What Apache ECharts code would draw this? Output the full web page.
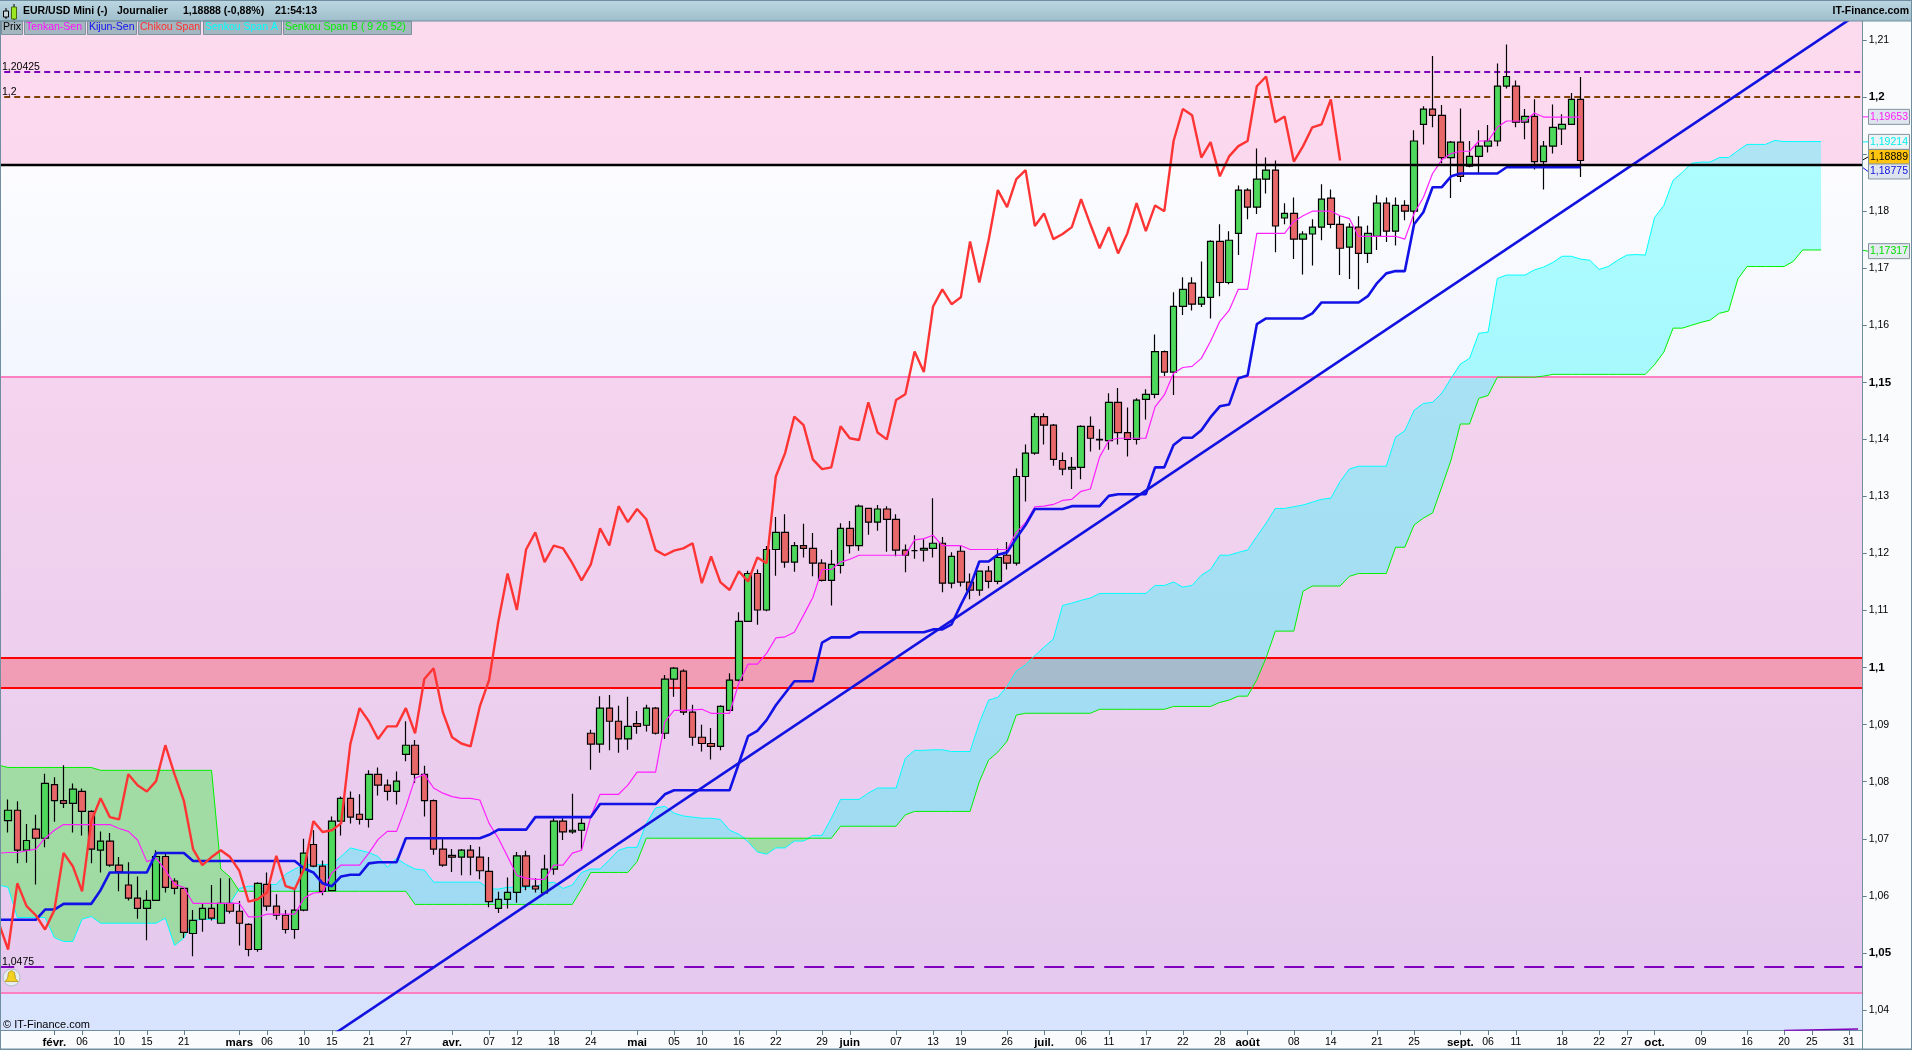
<!DOCTYPE html>
<html><head><meta charset="utf-8"><style>html,body{margin:0;padding:0;background:#fafbfc}#c{width:1912px;height:1050px}</style>
<script src="https://cdn.jsdelivr.net/npm/echarts@6/dist/echarts.min.js"></script></head><body><div id="c"></div>
<script>
const opens=[1.0732,1.0750,1.0680,1.0717,1.0701,1.0795,1.0767,1.0762,1.0783,1.0748,1.0680,1.0696,1.0654,1.0619,1.0596,1.0578,1.0592,1.0669,1.0626,1.0613,1.0534,1.0559,1.0578,1.0552,1.0587,1.0573,1.0550,1.0506,1.0620,1.0582,1.0566,1.0541,1.0575,1.0690,1.0652,1.0609,1.0731,1.0771,1.0743,1.0734,1.0813,1.0794,1.0783,1.0848,1.0864,1.0813,1.0767,1.0682,1.0671,1.0668,1.0680,1.0668,1.0643,1.0578,1.0594,1.0606,1.0670,1.0617,1.0605,1.0647,1.0731,1.0712,1.0715,1.0885,1.0866,1.0929,1.0906,1.0875,1.0902,1.0899,1.0929,1.0885,1.0980,1.0994,1.0922,1.0878,1.0867,1.0862,1.0925,1.0978,1.1081,1.1165,1.1101,1.1207,1.1237,1.1185,1.1214,1.1209,1.1183,1.1153,1.1179,1.1244,1.1214,1.1279,1.1255,1.1278,1.1260,1.1206,1.1205,1.1206,1.1209,1.1218,1.1148,1.1204,1.1150,1.1136,1.1169,1.1151,1.1197,1.1183,1.1335,1.1376,1.1440,1.1425,1.1363,1.1348,1.1351,1.1423,1.1400,1.1398,1.1465,1.1412,1.1400,1.1470,1.1479,1.1554,1.1518,1.1633,1.1674,1.1637,1.1649,1.1747,1.1675,1.1761,1.1837,1.1807,1.1856,1.1872,1.1788,1.1796,1.1751,1.1760,1.1772,1.1823,1.1777,1.1737,1.1772,1.1726,1.1756,1.1814,1.1765,1.1810,1.1800,1.1952,1.1979,1.1968,1.1894,1.1921,1.1879,1.1896,1.1914,1.1923,1.2019,1.2019,1.1956,1.1966,1.1887,1.1914,1.1944,1.1952,1.1996];
const closes=[1.0750,1.0680,1.0697,1.0701,1.0797,1.0767,1.0762,1.0787,1.0748,1.0682,1.0696,1.0654,1.0642,1.0596,1.0578,1.0592,1.0669,1.0615,1.0613,1.0536,1.0557,1.0578,1.0561,1.0587,1.0573,1.0552,1.0506,1.0622,1.0582,1.0566,1.0541,1.0575,1.0675,1.0652,1.0608,1.0731,1.0771,1.0738,1.0734,1.0813,1.0794,1.0783,1.0801,1.0864,1.0813,1.0767,1.0682,1.0654,1.0668,1.0680,1.0668,1.0644,1.0590,1.0594,1.0606,1.0670,1.0617,1.0612,1.0647,1.0731,1.0712,1.0715,1.0727,1.0866,1.0929,1.0906,1.0875,1.0897,1.0897,1.0929,1.0885,1.0980,1.0999,1.0922,1.0878,1.0867,1.0862,1.0932,1.0978,1.1081,1.1165,1.1101,1.1207,1.1237,1.1185,1.1214,1.1209,1.1183,1.1153,1.1181,1.1244,1.1214,1.1283,1.1255,1.1278,1.1260,1.1206,1.1197,1.1205,1.1209,1.1218,1.1148,1.1195,1.1150,1.1136,1.1169,1.1151,1.1193,1.1183,1.1335,1.1376,1.1440,1.1425,1.1365,1.1348,1.1351,1.1423,1.1402,1.1399,1.1465,1.1412,1.1400,1.1469,1.1479,1.1554,1.1518,1.1633,1.1663,1.1637,1.1649,1.1747,1.1675,1.1749,1.1837,1.1807,1.1856,1.1872,1.1774,1.1796,1.1751,1.1760,1.1772,1.1821,1.1777,1.1735,1.1772,1.1726,1.1761,1.1814,1.1765,1.1810,1.1800,1.1923,1.1979,1.1968,1.1894,1.1921,1.1861,1.1896,1.1914,1.1923,1.2019,1.2036,1.1956,1.1966,1.1887,1.1914,1.1947,1.1952,1.1996,1.18888];
const lows=[1.0711,1.0657,1.0658,1.0620,1.0685,1.0730,1.0754,1.0711,1.0706,1.0657,1.0641,1.0651,1.0608,1.0592,1.0560,1.0522,1.0592,1.0606,1.0603,1.0526,1.0494,1.0537,1.0557,1.0552,1.0569,1.0513,1.0494,1.0502,1.0574,1.0558,1.0534,1.0525,1.0573,1.0650,1.0601,1.0608,1.0706,1.0727,1.0725,1.0720,1.0776,1.0767,1.0760,1.0836,1.0798,1.0739,1.0672,1.0651,1.0642,1.0636,1.0636,1.0629,1.0580,1.0570,1.0578,1.0588,1.0610,1.0606,1.0605,1.0637,1.0698,1.0709,1.0681,1.0821,1.0851,1.0855,1.0851,1.0856,1.0884,1.0888,1.0883,1.0875,1.0949,1.0917,1.0863,1.0853,1.0839,1.0855,1.0925,1.0976,1.1081,1.1075,1.1099,1.1161,1.1175,1.1168,1.1193,1.1160,1.1151,1.1109,1.1165,1.1200,1.1205,1.1233,1.1240,1.1203,1.1195,1.1167,1.1191,1.1186,1.1193,1.1132,1.1139,1.1142,1.1120,1.1126,1.1139,1.1146,1.1172,1.1179,1.1291,1.1373,1.1391,1.1354,1.1337,1.1313,1.1330,1.1379,1.1382,1.1382,1.1391,1.1370,1.1391,1.1435,1.1472,1.1511,1.1478,1.1618,1.1626,1.1632,1.1612,1.1651,1.1672,1.1723,1.1786,1.1795,1.1831,1.1728,1.1777,1.1716,1.1689,1.1705,1.1749,1.1770,1.1688,1.1681,1.1663,1.1709,1.1732,1.1746,1.1740,1.1784,1.1777,1.1917,1.1947,1.1884,1.1823,1.1851,1.1877,1.1866,1.1903,1.1914,1.2015,1.1947,1.1926,1.1873,1.1838,1.1901,1.1916,1.1952,1.1860];
const highs=[1.0769,1.0766,1.0726,1.0742,1.0814,1.0808,1.0829,1.0797,1.0788,1.0750,1.0713,1.0710,1.0668,1.0659,1.0634,1.0610,1.0680,1.0676,1.0631,1.0613,1.0575,1.0587,1.0619,1.0631,1.0631,1.0591,1.0552,1.0624,1.0641,1.0603,1.0575,1.0610,1.0700,1.0715,1.0662,1.0739,1.0774,1.0783,1.0778,1.0820,1.0825,1.0804,1.0818,1.0906,1.0873,1.0828,1.0769,1.0703,1.0682,1.0682,1.0689,1.0686,1.0668,1.0607,1.0632,1.0677,1.0679,1.0631,1.0672,1.0736,1.0736,1.0779,1.0736,1.0891,1.0950,1.0952,1.0933,1.0949,1.0924,1.0935,1.0931,1.0987,1.1001,1.0997,1.0935,1.0900,1.0894,1.0934,1.0990,1.1097,1.1170,1.1172,1.1213,1.1264,1.1269,1.1220,1.1252,1.1236,1.1190,1.1206,1.1253,1.1257,1.1286,1.1279,1.1285,1.1283,1.1269,1.1216,1.1232,1.1225,1.1297,1.1229,1.1202,1.1213,1.1165,1.1169,1.1178,1.1209,1.1220,1.1349,1.1391,1.1446,1.1446,1.1427,1.1377,1.1369,1.1425,1.1440,1.1418,1.1481,1.1490,1.1456,1.1472,1.1488,1.1584,1.1556,1.1658,1.1684,1.1684,1.1712,1.1749,1.1777,1.1765,1.1845,1.1840,1.1910,1.1894,1.1889,1.1814,1.1824,1.1765,1.1786,1.1847,1.1838,1.1793,1.1779,1.1791,1.1775,1.1828,1.1824,1.1824,1.1819,1.1942,1.1984,1.2072,1.1986,1.1923,1.1980,1.1923,1.1942,1.1951,1.2059,1.2092,1.2029,1.1979,1.1996,1.1923,1.1987,1.1970,1.2007,1.2035];
const tenkan=[1.0675,1.0676,1.0676,1.0679,1.0682,1.0701,1.0715,1.0725,1.0725,1.0725,1.0725,1.0725,1.0725,1.0718,1.0713,1.0698,1.0660,1.0666,1.0645,1.0620,1.0615,1.0587,1.0587,1.0587,1.0587,1.0587,1.0587,1.0563,1.0563,1.0568,1.0568,1.0568,1.0568,1.0596,1.0605,1.0606,1.0640,1.0654,1.0654,1.0654,1.0675,1.0699,1.0713,1.0713,1.0756,1.0806,1.0813,1.0789,1.0780,1.0774,1.0771,1.0771,1.0768,1.0727,1.0701,1.0669,1.0636,1.0631,1.0629,1.0629,1.0654,1.0654,1.0675,1.0680,1.0739,1.0778,1.0778,1.0778,1.0794,1.0817,1.0817,1.0817,1.0905,1.0925,1.0925,1.0926,1.0927,1.0920,1.0920,1.0920,1.0973,1.1006,1.1006,1.1025,1.1052,1.1054,1.1062,1.1092,1.1123,1.1172,1.1172,1.1185,1.1190,1.1197,1.1197,1.1197,1.1197,1.1197,1.1197,1.1224,1.1226,1.1232,1.1214,1.1214,1.1214,1.1207,1.1207,1.1207,1.1207,1.1207,1.1237,1.1254,1.1282,1.1283,1.1286,1.1293,1.1295,1.1309,1.1313,1.1369,1.1398,1.1402,1.1402,1.1402,1.1402,1.1457,1.1478,1.1516,1.1526,1.1528,1.1542,1.1572,1.1607,1.1626,1.1663,1.1663,1.1761,1.1761,1.1761,1.1761,1.1782,1.1792,1.1800,1.1800,1.1800,1.1792,1.1787,1.1756,1.1756,1.1756,1.1756,1.1756,1.1751,1.1796,1.1824,1.1866,1.1890,1.1901,1.1905,1.1905,1.1923,1.1923,1.1947,1.1958,1.1958,1.1958,1.1972,1.1965,1.1965,1.1965,1.1965,1.1965];
const kijun=[1.0558,1.0558,1.0558,1.0558,1.0558,1.0576,1.0576,1.0586,1.0586,1.0586,1.0586,1.0610,1.0641,1.0641,1.0641,1.0641,1.0641,1.0675,1.0675,1.0675,1.0675,1.0661,1.0661,1.0661,1.0661,1.0661,1.0661,1.0661,1.0661,1.0661,1.0661,1.0661,1.0661,1.0648,1.0641,1.0622,1.0617,1.0634,1.0637,1.0637,1.0657,1.0659,1.0659,1.0659,1.0701,1.0701,1.0701,1.0701,1.0701,1.0701,1.0701,1.0701,1.0701,1.0707,1.0716,1.0716,1.0716,1.0716,1.0738,1.0738,1.0738,1.0738,1.0738,1.0738,1.0738,1.0761,1.0761,1.0761,1.0761,1.0761,1.0761,1.0761,1.0778,1.0785,1.0785,1.0785,1.0785,1.0785,1.0785,1.0785,1.0832,1.0880,1.0889,1.0908,1.0934,1.0955,1.0976,1.0976,1.0976,1.1044,1.1053,1.1053,1.1053,1.1062,1.1062,1.1062,1.1062,1.1062,1.1062,1.1062,1.1062,1.1067,1.1067,1.1076,1.1110,1.1142,1.1186,1.1186,1.1198,1.1202,1.1227,1.1250,1.1278,1.1278,1.1278,1.1278,1.1283,1.1283,1.1283,1.1283,1.1301,1.1304,1.1304,1.1304,1.1304,1.1351,1.1351,1.1390,1.1403,1.1403,1.1416,1.1439,1.1458,1.1461,1.1507,1.1512,1.1602,1.1612,1.1612,1.1612,1.1612,1.1612,1.1621,1.1640,1.1640,1.1640,1.1640,1.1640,1.1651,1.1674,1.1691,1.1695,1.1695,1.1777,1.1798,1.1842,1.1842,1.1861,1.1866,1.1866,1.1866,1.1866,1.1866,1.1877,1.1877,1.1877,1.1877,1.1877,1.1877,1.1877,1.1877,1.1877];
const chikou=[1.0552,1.0506,1.0622,1.0582,1.0566,1.0541,1.0575,1.0675,1.0652,1.0608,1.0731,1.0771,1.0738,1.0734,1.0813,1.0794,1.0783,1.0801,1.0864,1.0813,1.0767,1.0682,1.0654,1.0668,1.0680,1.0668,1.0644,1.0590,1.0594,1.0606,1.0670,1.0617,1.0612,1.0647,1.0731,1.0712,1.0715,1.0727,1.0866,1.0929,1.0906,1.0875,1.0897,1.0897,1.0929,1.0885,1.0980,1.0999,1.0922,1.0878,1.0867,1.0862,1.0932,1.0978,1.1081,1.1165,1.1101,1.1207,1.1237,1.1185,1.1214,1.1209,1.1183,1.1153,1.1181,1.1244,1.1214,1.1283,1.1255,1.1278,1.1260,1.1206,1.1197,1.1205,1.1209,1.1218,1.1148,1.1195,1.1150,1.1136,1.1169,1.1151,1.1193,1.1183,1.1335,1.1376,1.1440,1.1425,1.1365,1.1348,1.1351,1.1423,1.1402,1.1399,1.1465,1.1412,1.1400,1.1469,1.1479,1.1554,1.1518,1.1633,1.1663,1.1637,1.1649,1.1747,1.1675,1.1749,1.1837,1.1807,1.1856,1.1872,1.1774,1.1796,1.1751,1.1760,1.1772,1.1821,1.1777,1.1735,1.1772,1.1726,1.1761,1.1814,1.1765,1.1810,1.1800,1.1923,1.1979,1.1968,1.1894,1.1921,1.1861,1.1896,1.1914,1.1923,1.2019,1.2036,1.1956,1.1966,1.1887,1.1914,1.1947,1.1952,1.1996,1.18888];
const senkouA=[1.0619,1.0615,1.0562,1.0562,1.0562,1.0562,1.0527,1.0520,1.0520,1.0559,1.0564,1.0552,1.0552,1.0552,1.0552,1.0552,1.0552,1.0552,1.0561,1.0513,1.0526,1.0557,1.0559,1.0559,1.0559,1.0587,1.0613,1.0617,1.0617,1.0620,1.0620,1.0638,1.0647,1.0655,1.0655,1.0655,1.0655,1.0669,1.0684,1.0680,1.0676,1.0669,1.0650,1.0666,1.0655,1.0647,1.0645,1.0624,1.0624,1.0624,1.0624,1.0624,1.0624,1.0612,1.0612,1.0615,1.0615,1.0615,1.0616,1.0622,1.0624,1.0613,1.0619,1.0641,1.0647,1.0647,1.0663,1.0680,1.0685,1.0685,1.0727,1.0754,1.0757,1.0745,1.0740,1.0738,1.0736,1.0736,1.0734,1.0715,1.0708,1.0695,1.0677,1.0673,1.0684,1.0684,1.0696,1.0696,1.0706,1.0706,1.0736,1.0769,1.0769,1.0769,1.0780,1.0789,1.0789,1.0789,1.0841,1.0855,1.0855,1.0856,1.0856,1.0853,1.0853,1.0853,1.0903,1.0943,1.0948,1.0967,1.0994,1.1005,1.1021,1.1036,1.1050,1.1109,1.1113,1.1118,1.1122,1.1130,1.1130,1.1130,1.1130,1.1130,1.1130,1.1144,1.1144,1.1150,1.1141,1.1144,1.1162,1.1172,1.1197,1.1197,1.1202,1.1206,1.1230,1.1253,1.1279,1.1279,1.1282,1.1285,1.1290,1.1295,1.1297,1.1326,1.1348,1.1353,1.1353,1.1353,1.1353,1.1404,1.1415,1.1451,1.1463,1.1465,1.1481,1.1507,1.1532,1.1542,1.1586,1.1588,1.1682,1.1688,1.1688,1.1688,1.1697,1.1702,1.1710,1.1721,1.1721,1.1716,1.1714,1.1698,1.1703,1.1714,1.1723,1.1724,1.1723,1.1789,1.1810,1.1854,1.1868,1.1884,1.1886,1.1886,1.1894,1.1894,1.1906,1.1917,1.1917,1.1917,1.1924,1.1922,1.1922,1.1922,1.1922,1.1922];
const senkouB=[1.0829,1.0825,1.0825,1.0825,1.0825,1.0825,1.0825,1.0825,1.0825,1.0825,1.0825,1.0820,1.0820,1.0820,1.0820,1.0820,1.0820,1.0820,1.0820,1.0820,1.0820,1.0820,1.0820,1.0820,1.0647,1.0633,1.0608,1.0608,1.0608,1.0608,1.0608,1.0608,1.0608,1.0608,1.0608,1.0608,1.0608,1.0608,1.0608,1.0608,1.0608,1.0608,1.0608,1.0608,1.0608,1.0585,1.0585,1.0585,1.0585,1.0585,1.0585,1.0585,1.0585,1.0585,1.0585,1.0585,1.0585,1.0585,1.0585,1.0585,1.0585,1.0585,1.0585,1.0612,1.0641,1.0641,1.0641,1.0641,1.0641,1.0660,1.0701,1.0701,1.0701,1.0701,1.0701,1.0701,1.0701,1.0701,1.0701,1.0701,1.0701,1.0701,1.0701,1.0701,1.0701,1.0701,1.0701,1.0701,1.0701,1.0701,1.0701,1.0722,1.0722,1.0722,1.0722,1.0722,1.0722,1.0722,1.0742,1.0748,1.0748,1.0748,1.0748,1.0748,1.0748,1.0748,1.0800,1.0838,1.0852,1.0871,1.0917,1.0920,1.0920,1.0920,1.0920,1.0920,1.0920,1.0920,1.0920,1.0927,1.0927,1.0927,1.0927,1.0927,1.0927,1.0927,1.0927,1.0932,1.0932,1.0932,1.0932,1.0932,1.0939,1.0943,1.0950,1.0950,1.0979,1.1017,1.1064,1.1064,1.1064,1.1134,1.1143,1.1143,1.1143,1.1143,1.1160,1.1165,1.1165,1.1165,1.1165,1.1211,1.1211,1.1250,1.1262,1.1271,1.1317,1.1364,1.1427,1.1427,1.1472,1.1477,1.1509,1.1509,1.1509,1.1509,1.1509,1.1511,1.1514,1.1514,1.1514,1.1514,1.1514,1.1514,1.1514,1.1514,1.1514,1.1514,1.1514,1.1531,1.1553,1.1595,1.1595,1.1600,1.1605,1.1609,1.1621,1.1625,1.1681,1.1703,1.1703,1.1703,1.1703,1.1703,1.1712,1.1732,1.1732,1.1732];
const trendLine=[[36,1.03552],[201,1.2146]];
const sliverLine=[[193,1.0364],[201,1.03665]];
const xTickSlots=[6,9,13,16,20,26,29,33,36,40,44,49,53,56,60,64,69,73,76,80,84,89,92,97,101,104,109,113,117,120,124,128,132,135,140,144,149,153,158,161,164,169,173,176,179,184,189,193,196,200];
const xTickLabels=['févr.','06','10','15','21','mars','06','10','15','21','27','avr.','07','12','18','24','mai','05','10','16','22','29','juin','07','13','19','26','juil.','06','11','17','22','28','août','08','14','21','25','sept.','06','11','18','22','27','oct.','09','16','20','25','31'];
const yTicks=[1.04,1.05,1.06,1.07,1.08,1.09,1.10,1.11,1.12,1.13,1.14,1.15,1.16,1.17,1.18,1.19,1.20,1.21];
const yBold=[1.05,1.10,1.15,1.20];
const levelPurpleTop=1.2044, levelBrown=1.2, levelBlack=1.18815, levelPinkTop=1.1510, levelPinkBottom=1.0430, levelPurpleLow=1.04754, bandTop=1.1017, bandBottom=1.0964;
const boxPrices=[1.19653,1.19214,1.18889,1.18775,1.17317];
const boxTexts=['1,19653','1,19214','1,18889','1,18775','1,17317'];
const boxColors=['#ff20ff','#00f0f0','#000000','#1010e0','#00e000'];
const boxFills=['#dfe5ee','#eef3f6','#ffc410','#dfe5ee','#e4eaee'];
const boxShift=[0,0,-3.5,4.5,1];
const N=202, yMin=1.03649, yMax=1.21333;
const slots=Array.from({length:N},(_,i)=>String(i));
const tickMap=new Map(xTickSlots.map((s,i)=>[s,xTickLabels[i]]));
const FONT='"Liberation Sans",Arial,sans-serif';
function cloudRuns(){const runs=[];let cur=null;
 for(let s=0;s<senkouA.length;s++){const up=senkouA[s]>=senkouB[s];
  if(!cur||cur.up!==up){
   if(cur&&s>0){const a0=senkouA[s-1],b0=senkouB[s-1],a1=senkouA[s],b1=senkouB[s];const t=(a0-b0)/((a0-b0)-(a1-b1));const px=s-1+t,py=a0+(a1-a0)*t;cur.pts.push([px,py]);cur={up,pts:[[px,py]]};runs.push(cur);}
   else{cur={up,pts:[]};runs.push(cur);}
  }
  cur.pts.push([s,senkouA[s],senkouB[s]]);
 }
 return runs;}
const runs=cloudRuns();
const chart=echarts.init(document.getElementById('c'),null,{width:1912,height:1050});
function ls(name,data,color,w,z,extra){return Object.assign({name,type:'line',data,symbol:'none',showSymbol:false,silent:true,z,clip:true,lineStyle:{color,width:w},itemStyle:{color},animation:false},extra||{});}
const grad=(a,b)=>new echarts.graphic.LinearGradient(0,0,0,1,[{offset:0,color:a},{offset:1,color:b}]);
function hl(v,color,w,type){return {yAxis:v,lineStyle:{color,width:w,type:type||'solid',opacity:1}};}
function txt(t,x,y,fill,size,weight,align){return {type:'text',x,y,z:104,silent:true,style:{text:t,fill,font:(weight||'normal')+' '+size+'px '+FONT,textAlign:align||'left',textVerticalAlign:'middle'}};}
const headerItems=[
 {type:'rect',shape:{x:0,y:0,width:1912,height:21},style:{fill:grad('#bcd7e2','#9fbecb')},z:100},
 {type:'rect',shape:{x:0,y:0,width:1912,height:1},style:{fill:'#6f8fa0'},z:101},
 {type:'rect',shape:{x:0,y:20.5,width:1912,height:1},style:{fill:'#6f8fa0'},z:101},
 {type:'rect',shape:{x:0,y:21,width:1,height:1028},style:{fill:'#6f8fa0'},z:101},
 {type:'rect',shape:{x:1911,y:0,width:1,height:1050},style:{fill:'#6f8fa0'},z:101},
 {type:'rect',shape:{x:0,y:1048.5,width:1912,height:1.5},style:{fill:'#6f8fa0'},z:101},
 {type:'rect',shape:{x:5.5,y:8,width:1,height:11},style:{fill:'#000'},z:102},
 {type:'rect',shape:{x:3.5,y:11,width:5,height:6},style:{fill:'#c9d8dd',stroke:'#000',lineWidth:1},z:103},
 {type:'rect',shape:{x:13.5,y:4,width:1,height:16},style:{fill:'#000'},z:102},
 {type:'rect',shape:{x:11.5,y:7,width:5,height:12},style:{fill:'#9be820',stroke:'#4a6a10',lineWidth:1},z:103},
 txt('EUR/USD Mini (-)',23,11,'#000',10.5,'bold'),txt('Journalier',117,11,'#000',10.5,'bold'),txt('1,18888 (-0,88%)',183,11,'#000',10.5,'bold'),txt('21:54:13',275,11,'#000',10.5,'bold'),
 txt('IT-Finance.com',1909,11,'#000',10.5,'bold','right')
];
const legendBtns=[['Prix',1,22,'#000'],['Tenkan-Sen',24,62,'#ff10ff'],['Kijun-Sen',87,50,'#1010f0'],['Chikou Span',138,63,'#ff3030'],['Senkou Span A',203,79,'#00ffff'],['Senkou Span B ( 9 26 52)',283,129,'#00f000']];
legendBtns.forEach(b=>{headerItems.push({type:'rect',shape:{x:b[1]+.5,y:21,width:b[2]-1,height:13.5},style:{fill:'#a4b6c0',stroke:'#7f919c',lineWidth:1},z:100});headerItems.push(txt(b[0],b[1]+2,27.5,b[3],10.5));});
headerItems.push(txt('1,20425',2,67,'#000',10.5),txt('1,2',2,92,'#000',10.5),txt('1,0475',2,962,'#000',10.5),txt('© IT-Finance.com',3,1024.5,'#000',11));
headerItems.push({type:'circle',shape:{cx:11.5,cy:977.5,r:8.5},style:{fill:'#e6ecf0',stroke:'#b0bcc6',lineWidth:1},z:102});
headerItems.push({type:'polygon',shape:{points:[[11.5,970.5],[14.5,972.5],[15.5,978.5],[18,981.5],[5,981.5],[7.5,978.5],[8.5,972.5]]},style:{fill:'#f4d020',stroke:'#a88a10',lineWidth:.7},z:103});
headerItems.push({type:'rect',shape:{x:1862,y:21,width:1,height:1028},style:{fill:'#6f8fa0'},z:99});
chart.setOption({
 animation:false,backgroundColor:'#fafbfc',tooltip:{show:false},
 grid:{left:-5.8,top:21,width:1868.5,height:1009,containLabel:false,outerBoundsMode:'none'},
 xAxis:{type:'category',data:slots,boundaryGap:true,
  axisLine:{show:true,onZero:false,lineStyle:{color:'#6f8fa0',width:1}},
  axisTick:{show:true,length:5,alignWithLabel:true,interval:(i)=>tickMap.has(i),lineStyle:{color:'#5f7f90'}},
  splitLine:{show:false},
  axisLabel:{show:true,interval:(i)=>tickMap.has(i),margin:7,fontFamily:FONT,fontSize:10.5,color:'#000',hideOverlap:false,
   formatter:(v,idx)=>{const l=tickMap.get(+v);return /[a-zé]/.test(l||'')?'{b|'+l+'}':(l||'');},
   rich:{b:{fontFamily:FONT,fontWeight:'bold',fontSize:11.5,color:'#000'}}}},
 yAxis:{type:'value',position:'right',min:yMin,max:yMax,scale:true,
  axisLine:{show:false},splitLine:{show:false},
  axisTick:{show:true,length:4,customValues:yTicks,lineStyle:{color:'#5f7f90'}},
  axisLabel:{show:true,inside:false,margin:6,customValues:yTicks.filter(v=>v!==1.19),fontFamily:FONT,fontSize:10.5,color:'#000',
   formatter:(v)=>{const r=+(+v).toFixed(2);const s=String(r).replace('.',',');return yBold.includes(r)?'{b|'+s+'}':s;},
   rich:{b:{fontFamily:FONT,fontWeight:'bold',fontSize:11.5,color:'#000'}}}},
 graphic:{elements:headerItems},
 series:[
  ls('bg',[[0,1.1]],'transparent',0,0.1,{markArea:{silent:true,z:0.5,data:[
    [{yAxis:yMax,itemStyle:{color:grad('#fddbee','#fcd8ee')}},{yAxis:levelBlack}],
    [{yAxis:levelBlack,itemStyle:{color:grad('#fcfcff','#f2f6fe')}},{yAxis:levelPinkTop}],
    [{yAxis:levelPinkTop,itemStyle:{color:grad('#f4d4ee','#e5c9ee')}},{yAxis:levelPinkBottom}],
    [{yAxis:levelPinkBottom,itemStyle:{color:'#d8e4fd'}},{yAxis:yMin}],
    [{yAxis:bandTop,itemStyle:{color:'rgba(255,0,0,0.24)'}},{yAxis:bandBottom}]
   ]}}),
  {name:'Kumo',type:'custom',z:2,clip:true,silent:true,animation:false,data:runs.map((r,i)=>[i,1.1]),encode:{x:0,y:1},
   renderItem:(p,api)=>{const r=runs[api.value(0)];const up=[],dn=[];
    r.pts.forEach(q=>{if(q.length===2){const c=api.coord([q[0],q[1]]);up.push(c);dn.push(c);}else{up.push(api.coord([q[0],q[1]]));dn.push(api.coord([q[0],q[2]]));}});
    return {type:'polygon',shape:{points:up.concat(dn.reverse())},style:{fill:r.up?'rgba(0,255,255,0.31)':'rgba(0,255,0,0.31)'}};}},
  ls('levels',[[0,1.1]],'transparent',0,3,{markLine:{silent:true,z:3,precision:6,symbol:['none','none'],label:{show:false},animation:false,data:[
    hl(levelPurpleTop,'#8000c0',2,[6,4]),hl(levelBrown,'#804000',2,[6,4]),
    hl(levelPinkTop,'#ff80c0',2),hl(levelPinkBottom,'#ff80c0',2),
    hl(bandTop,'#ff0000',2),hl(bandBottom,'#ff0000',2),
    hl(levelPurpleLow,'#8000c0',2,[20,10])]}}),
  ls('Senkou Span A',senkouA,'#00ffff',1,4),
  ls('Senkou Span B',senkouB,'#00f000',1,4),
  {name:'Prix',type:'candlestick',z:5,silent:true,animation:false,barWidth:7,clip:true,
   data:[['-','-','-','-']].concat(opens.map((o,k)=>[o,closes[k],lows[k],highs[k]])),
   itemStyle:{color:'#4fd95c',color0:'#e8686a',borderColor:'#000',borderColor0:'#000',borderWidth:1.2}},
  ls('Tenkan-Sen',tenkan,'#ff20ff',1.2,6),
  ls('Kijun-Sen',kijun,'#1212e6',2.6,6),
  ls('Chikou Span',chikou,'#ff3434',2.4,6),
  ls('Trend',trendLine,'#1212e0',2.6,7),
  ls('Sliver',sliverLine,'#8000c0',1.5,7),
  ls('black',[[0,1.1]],'transparent',0,8,{markLine:{silent:true,z:8,precision:6,symbol:['none','none'],label:{show:false},animation:false,data:[hl(levelBlack,'#000',2.4)]}}),
  {name:'boxes',type:'custom',z:20,silent:true,animation:false,clip:false,data:boxPrices.map((v,i)=>[i,v]),encode:{x:0,y:1},
   renderItem:(p,api)=>{const i=api.value(0);const y=api.coord([0,boxPrices[i]])[1];const yb=y+boxShift[i];
    return {type:'group',children:[
     {type:'line',shape:{x1:1862,y1:y,x2:1868,y2:yb},style:{stroke:boxColors[i],lineWidth:1}},
     {type:'rect',shape:{x:1868.5,y:yb-7.5,width:41,height:15},style:{fill:boxFills[i],stroke:'#84949f',lineWidth:1}},
     {type:'text',style:{text:boxTexts[i],x:1889,y:yb,fill:boxColors[i],font:'10.5px '+FONT,textAlign:'center',textVerticalAlign:'middle'}}
    ]};}}
 ]
});
</script></body></html>
